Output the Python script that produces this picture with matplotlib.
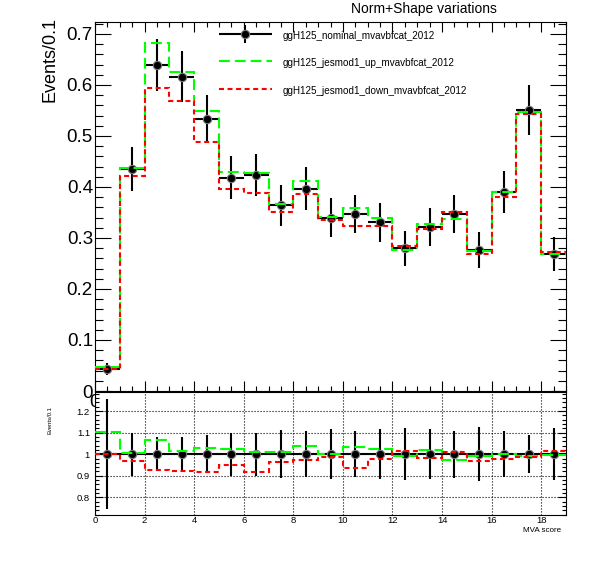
import numpy as np
import matplotlib
matplotlib.use("Agg")
import matplotlib.pyplot as plt
from matplotlib.ticker import MultipleLocator, FuncFormatter
from matplotlib.lines import Line2D
from matplotlib.legend_handler import HandlerErrorbar
from matplotlib.container import ErrorbarContainer

plt.rcParams['font.family'] = ['Liberation Sans', 'DejaVu Sans']

# ---------------- data ----------------
bin_edges = list(range(20))  # 19 bins from 0 to 19
nominal = [0.043, 0.435, 0.640, 0.616, 0.533, 0.418, 0.4235, 0.364, 0.397, 0.340,
           0.347, 0.331, 0.280, 0.322, 0.347, 0.2765, 0.3895, 0.551, 0.2686]
nominal_err = [0.011, 0.043, 0.051, 0.050, 0.047, 0.042, 0.042, 0.040, 0.042, 0.039,
               0.037, 0.038, 0.034, 0.037, 0.038, 0.035, 0.041, 0.049, 0.0325]
jes_up = [0.0475, 0.4376, 0.683, 0.6245, 0.549, 0.4285, 0.4273, 0.3673, 0.412, 0.341,
          0.3585, 0.3386, 0.277, 0.3282, 0.338, 0.2745, 0.3895, 0.547, 0.268]
jes_down = [0.043, 0.422, 0.594, 0.569, 0.489, 0.397, 0.3883, 0.3505, 0.3859, 0.336,
            0.3245, 0.3236, 0.2845, 0.3168, 0.3505, 0.268, 0.380, 0.5438, 0.2726]
legend_labels = ["ggH125_nominal_mvavbfcat_2012",
                 "ggH125_jesmod1_up_mvavbfcat_2012",
                 "ggH125_jesmod1_down_mvavbfcat_2012"]
title = "Norm+Shape variations"
ytitle = "Events/0.1"
xtitle = "MVA score"

# ---------------- derived ----------------
edges = np.array(bin_edges, dtype=float)
centers = 0.5 * (edges[:-1] + edges[1:])
halfw = 0.5 * np.diff(edges)
nom = np.array(nominal)
err = np.array(nominal_err)
up = np.array(jes_up)
dn = np.array(jes_down)

W, H = 596, 572
fig = plt.figure(figsize=(W / 100, H / 100), dpi=100)


def frac(x0, y0, x1, y1):
    return [x0 / W, 1 - y1 / H, (x1 - x0) / W, (y1 - y0) / H]


ax = fig.add_axes(frac(95, 21.7, 566, 391))
rax = fig.add_axes(frac(95, 392.3, 566, 515))

GREEN = '#00ff00'
RED = '#ff0000'
LW = 1.5
DASH_UP = (0, (5.2, 2.4))
DASH_DN = (0, (2.4, 1.7))
mk = dict(ms=6.0, mfc='black', mec='#7a7a7a', mew=0.8)

# ---------------- main panel ----------------
eb = ax.errorbar(centers, nom, yerr=err, xerr=halfw, fmt='o', color='black',
                 ecolor='black', elinewidth=LW, capsize=0, zorder=2, **mk)
ax.stairs(up, edges, baseline=None, color=GREEN, lw=LW, linestyle=DASH_UP, zorder=3)
ax.stairs(dn, edges, baseline=None, color=RED, lw=LW, linestyle=DASH_DN, zorder=4)

# ---------------- ratio panel ----------------
r_up = up / nom
r_dn = dn / nom
r_err = err / nom
rax.grid(True, which='major', color='black', linestyle=(0, (1, 1.7)), lw=0.8)
rax.set_axisbelow(True)
rax.errorbar(centers, np.ones_like(nom), yerr=r_err, xerr=halfw, fmt='o', color='black',
             ecolor='black', elinewidth=LW, capsize=0, zorder=2, **mk)
rax.stairs(r_up, edges, baseline=None, color=GREEN, lw=LW, linestyle=DASH_UP, zorder=3)
rax.stairs(r_dn, edges, baseline=None, color=RED, lw=LW, linestyle=DASH_DN, zorder=4)

gfmt = FuncFormatter(lambda v, p: f'{v:g}')
for a in (ax, rax):
    a.set_xlim(edges[0], edges[-1])
    for s in a.spines.values():
        s.set_linewidth(0.8)

ax.set_ylim(0, 0.7241)
rax.set_ylim(0.718, 1.287)

ax.xaxis.set_major_locator(MultipleLocator(2))
ax.xaxis.set_minor_locator(MultipleLocator(0.5))
ax.yaxis.set_major_locator(MultipleLocator(0.1))
ax.yaxis.set_minor_locator(MultipleLocator(0.02))
ax.yaxis.set_major_formatter(gfmt)
ax.tick_params(which='both', direction='in', top=True, right=True, width=0.8)
ax.tick_params(axis='y', which='major', length=11.5, labelsize=13.5, pad=1.5)
ax.tick_params(axis='y', which='minor', length=5.8)
ax.tick_params(axis='x', which='major', length=7.2, labelsize=13.5, pad=2)
ax.tick_params(axis='x', which='minor', length=3.6)

rax.xaxis.set_major_locator(MultipleLocator(2))
rax.yaxis.set_major_locator(MultipleLocator(0.1))
rax.yaxis.set_minor_locator(MultipleLocator(0.02))
rax.yaxis.set_major_formatter(gfmt)
rax.tick_params(which='both', direction='in', right=True, width=0.8)
rax.tick_params(axis='y', which='major', length=5.8, labelsize=6.8, pad=3.6)
rax.tick_params(axis='y', which='minor', length=2.9)
rax.tick_params(axis='x', which='major', length=0, labelsize=6.8, pad=0.8)

# ---------------- titles ----------------
ax.set_ylabel(ytitle, fontsize=13, loc='top')
ax.yaxis.set_label_coords((58.8 - 95) / 471, (391 - 17) / 369.3)
rax.set_ylabel(ytitle, fontsize=4.2, loc='top')
rax.yaxis.set_label_coords((53 - 95) / 471, (515 - 406) / 122.7)
rax.set_xlabel(xtitle, fontsize=5.8, loc='right')
rax.xaxis.set_label_coords((561 - 95) / 471, (515 - 527) / 122.7)
fig.suptitle(title, x=424 / W, y=1 - 9.5 / H, va='center', ha='center', fontsize=10)

# ---------------- legend ----------------
fs = 7.1
fpx = fs * 100 / 72
h_up = Line2D([], [], color=GREEN, lw=LW, linestyle=DASH_UP)
h_dn = Line2D([], [], color=RED, lw=LW, linestyle=DASH_DN)
ax.legend([eb, h_up, h_dn], legend_labels, loc='upper left',
          bbox_to_anchor=(219 / W, 1 - 29.0 / H), bbox_transform=fig.transFigure,
          frameon=False, fontsize=fs, handlelength=52.7 / fpx, handleheight=17.7 / fpx,
          handletextpad=11.3 / fpx, labelspacing=13.3 / fpx, borderpad=0, borderaxespad=0,
          handler_map={ErrorbarContainer: HandlerErrorbar(xerr_size=26.35 / fpx,
                                                          yerr_size=8.85 / fpx)})

fig.savefig('out.png', dpi=100)
